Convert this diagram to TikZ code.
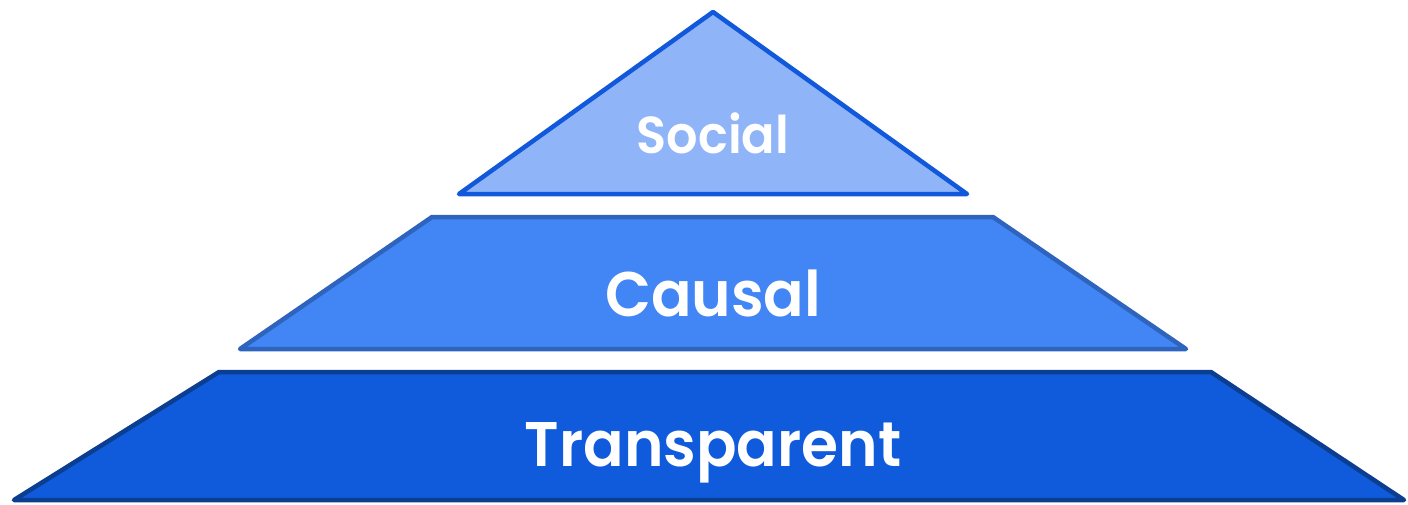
\documentclass[tikz,border=0pt]{standalone}
\usepackage{fontspec}
\setmainfont{Poppins}[BoldFont={Poppins SemiBold}]
\begin{document}
\begin{tikzpicture}[x=1pt,y=-1pt,
  layer/.style={line width=4.5pt,line join=round,line cap=round},
  label/.style={text=white,font=\bfseries,inner sep=0pt,anchor=base,xscale=0.95}]
\definecolor{topfill}{HTML}{8FB5F8}
\definecolor{topline}{HTML}{1258DB}
\definecolor{midfill}{HTML}{4285F4}
\definecolor{midline}{HTML}{2F64BE}
\definecolor{lowfill}{HTML}{0F5BDB}
\definecolor{lowline}{HTML}{0B3D91}
\useasboundingbox (0,0) rectangle (1408,504);
% top triangle
\draw[layer,fill=topfill,draw=topline] (713,12) -- (967,194) -- (459,194) -- cycle;
% middle trapezoid
\draw[layer,fill=midfill,draw=midline] (432,217) -- (993,217) -- (1186,349) -- (240,349) -- cycle;
% bottom trapezoid
\draw[layer,fill=lowfill,draw=lowline] (219,372) -- (1211,372) -- (1404,500) -- (14,500) -- cycle;
\node[label,font=\bfseries\fontsize{52}{52}\selectfont] (social) at (713,153) {Social};
\node[label,font=\bfseries\fontsize{63}{63}\selectfont] (causal) at (713,316) {Causal};
\node[label,font=\bfseries\fontsize{63}{63}\selectfont] (transparent) at (713,466) {Transparent};
\end{tikzpicture}
\end{document}
